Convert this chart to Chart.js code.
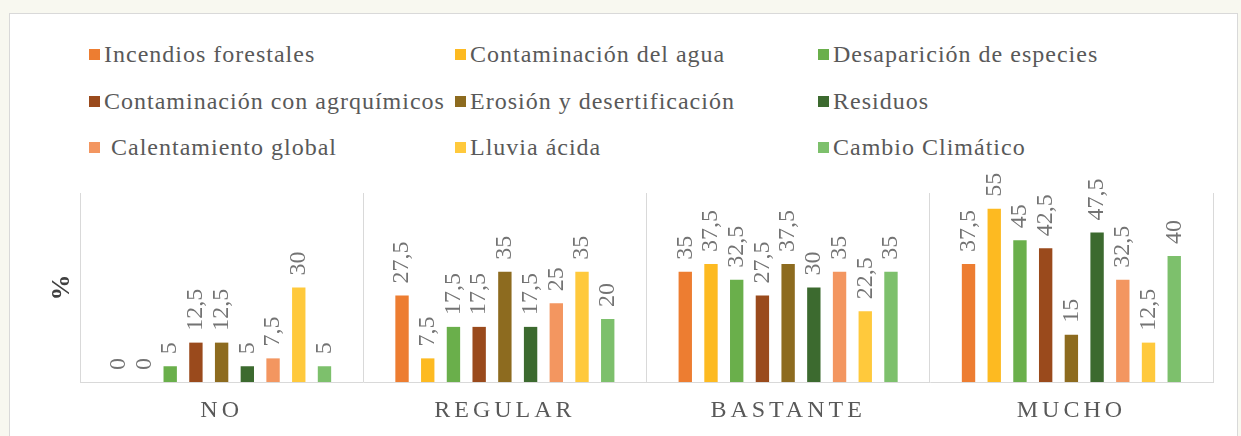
<!DOCTYPE html>
<html>
<head>
<meta charset="utf-8">
<script src="https://cdn.jsdelivr.net/npm/chart.js@4/dist/chart.umd.min.js"></script>
<style>
  html, body { margin: 0; padding: 0; }
  body { width: 1241px; height: 436px; background: #f8f8f0; position: relative; overflow: hidden; font-family: "Liberation Serif", serif; }
  #frame { position: absolute; left: 9px; top: 13px; width: 1229px; height: 430px; background: #fff; border: 1px solid #d9d9d9; box-sizing: border-box; }
  .item { position: absolute; display: flex; align-items: center; height: 28px; font-size: 24px; color: #595959; letter-spacing: 1px; white-space: pre; }
  .item .box { width: 11px; height: 11px; margin-right: 4px; flex: none; }
  #graphic { position: absolute; left: 0; top: 0; }
</style>
</head>
<body>
<div id="frame"></div>
<div id="legend"></div>
<canvas id="graphic" width="1241" height="436"></canvas>
<script>
const categories = ['NO', 'REGULAR', 'BASTANTE', 'MUCHO'];

const seriesNames = [
  'Incendios forestales',
  'Contaminación del agua',
  'Desaparición de especies',
  'Contaminación con agrquímicos',
  'Erosión y desertificación',
  'Residuos',
  ' Calentamiento global',
  'Lluvia ácida',
  'Cambio Climático'
];

// valores en % por categoria (NO, REGULAR, BASTANTE, MUCHO)
const incendios     = [0, 27.5, 35, 37.5];
const agua          = [0, 7.5, 37.5, 55];
const especies      = [5, 17.5, 32.5, 45];
const agroquimicos  = [12.5, 17.5, 27.5, 42.5];
const erosion       = [12.5, 35, 37.5, 15];
const residuos      = [5, 17.5, 30, 47.5];
const calentamiento = [7.5, 25, 35, 32.5];
const lluvia        = [30, 35, 22.5, 12.5];
const cambio        = [5, 20, 35, 40];

const seriesValues = [incendios, agua, especies, agroquimicos, erosion, residuos, calentamiento, lluvia, cambio];

const colors = ['#ED7D31', '#FDBA21', '#6AAF4B', '#9A4A1C', '#8D6B1F', '#3C6A2F', '#F39660', '#FFC93C', '#7DC06C'];

// leyenda en 3 columnas
const legend = document.getElementById('legend');
const colLeft = [89, 455, 818];
const rowMid = [54, 101, 147];
seriesNames.forEach((name, i) => {
  const item = document.createElement('div');
  item.className = 'item';
  item.style.left = colLeft[i % 3] + 'px';
  item.style.top = (rowMid[Math.floor(i / 3)] - 14) + 'px';
  const box = document.createElement('span');
  box.className = 'box';
  box.style.background = colors[i];
  item.appendChild(box);
  item.appendChild(document.createTextNode(name));
  legend.appendChild(item);
});

// etiquetas verticales encima de cada barra
const barLabels = {
  id: 'barLabels',
  afterDatasetsDraw(chart) {
    const ctx = chart.ctx;
    ctx.save();
    ctx.font = '24px "Liberation Serif"';
    ctx.fillStyle = '#737373';
    ctx.textAlign = 'left';
    ctx.textBaseline = 'middle';
    chart.data.datasets.forEach((ds, i) => {
      chart.getDatasetMeta(i).data.forEach((bar, j) => {
        ctx.save();
        ctx.translate(bar.x, bar.y - 12);
        ctx.rotate(-Math.PI / 2);
        ctx.fillText(String(ds.data[j]).replace('.', ','), 0, 0);
        ctx.restore();
      });
    });
    ctx.restore();
  }
};

// espaciado de letras en las categorias
const spacedTicks = {
  id: 'spacedTicks',
  beforeDraw(chart) {
    const x = chart.scales.x;
    if (x._spaced) return;
    const orig = x.drawLabels;
    x.drawLabels = function (area) {
      this.ctx.save();
      this.ctx.letterSpacing = '4px';
      orig.call(this, area);
      this.ctx.restore();
    };
    x._spaced = true;
  }
};

const ctx = document.getElementById('graphic').getContext('2d');

new Chart(ctx, {
  type: 'bar',
  data: {
    labels: categories,
    datasets: seriesNames.map((name, i) => ({
      label: name,
      data: seriesValues[i],
      backgroundColor: colors[i],
      categoryPercentage: 0.817,
      barPercentage: 0.52
    }))
  },
  options: {
    responsive: false,
    animation: false,
    layout: {
      padding: { left: 45, right: 28, top: 193, bottom: 12 }
    },
    plugins: {
      legend: { display: false },
      tooltip: { enabled: false }
    },
    scales: {
      x: {
        grid: {
          offset: true,
          color: '#d9d9d9',
          drawTicks: false
        },
        border: { color: '#d9d9d9' },
        ticks: {
          color: '#595959',
          padding: 14,
          font: { family: 'Liberation Serif', size: 24 }
        },
        afterFit: (s) => { s.height = 42; }
      },
      y: {
        min: 0,
        max: 60,
        grid: { display: false, drawTicks: false },
        border: { display: false },
        ticks: { display: false },
        title: {
          display: true,
          text: '%',
          color: '#404040',
          padding: { top: 2, bottom: 4 },
          font: { family: 'Liberation Serif', size: 26, weight: 'bold' }
        },
        afterFit: (s) => { s.width = 35; }
      }
    }
  },
  plugins: [barLabels, spacedTicks]
});
</script>
</body>
</html>
